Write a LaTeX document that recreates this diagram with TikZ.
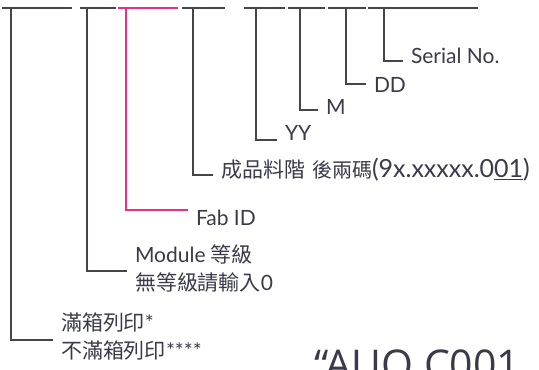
\documentclass[tikz,border=0pt]{standalone}
\usepackage{fontspec}
\setmainfont{Lato}
\newfontfamily\cjk{Noto Sans CJK TC}
\newfontfamily\logofont{Open Sans}
\usetikzlibrary{positioning}
\definecolor{linegray}{HTML}{4A4545}
\definecolor{textgray}{HTML}{3A3A4A}
\definecolor{fabpink}{HTML}{E8308A}

\begin{document}
\begin{tikzpicture}[x=1pt, y=-1pt,
        bar/.style={draw=linegray, line width=1.4pt},
        fab bar/.style={draw=fabpink, line width=1.4pt},
        label node/.style={anchor=west, inner xsep=8pt, inner ysep=0pt, outer sep=0pt,
            text=textgray, font=\fontsize{21}{28}\selectfont, align=left}]
    \useasboundingbox (0,0) rectangle (539,370);

    % Kreski u gory
    \coordinate (a1) at (2,8);   \coordinate (b1) at (72,8);  \coordinate (t1) at (11,8);
    \coordinate (a2) at (80,8);  \coordinate (b2) at (116,8); \coordinate (t2) at (87,8);
    \coordinate (a3) at (118,8); \coordinate (b3) at (178,8); \coordinate (t3) at (126,8);
    \coordinate (a4) at (182,8); \coordinate (b4) at (225,8); \coordinate (t4) at (193,8);
    \coordinate (a5) at (244,8); \coordinate (b5) at (285,8); \coordinate (t5) at (256,8);
    \coordinate (a6) at (288,8); \coordinate (b6) at (325,8); \coordinate (t6) at (300,8);
    \coordinate (a7) at (328,8); \coordinate (b7) at (366,8); \coordinate (t7) at (346,8);
    \coordinate (a8) at (368,8); \coordinate (b8) at (478,8); \coordinate (t8) at (384,8);

    % Opisy
    \node[label node] (box) at (53,337) {{\cjk 滿箱列印}*\\{\cjk 不滿箱列印}****};
    \node[label node] (grade) at (127,269) {Module {\cjk 等級}\\{\cjk 無等級請輸入}0};
    \node[label node] (fab) at (188,218) {Fab ID};
    \node[label node] (part) at (213,170) {{\cjk 成品料階\hspace{7pt}\fontsize{20}{20}\selectfont 後兩碼}%
        {\fontsize{25}{25}\selectfont (9x.xxxxx.0\underline{01})}};
    \node[label node] (yy) at (277,133) {YY};
    \node[label node] (mm) at (318,107) {M};
    \node[label node] (dd) at (366,85) {DD};
    \node[label node] (serial) at (403,56) {Serial No.};
    \node[anchor=base west, inner sep=0pt, text=textgray,
        font=\logofont\fontsize{41}{41}\selectfont] (logo) at (314,379) {\textquotedblleft AUO C001};

    % Kreski
    \draw[bar] (a1) -- (b1);
    \draw[bar] (a2) -- (b2);
    \draw[fab bar] (a3) -- (b3);
    \draw[bar] (a4) -- (b4);
    \draw[bar] (a5) -- (b5);
    \draw[bar] (a6) -- (b6);
    \draw[bar] (a7) -- (b7);
    \draw[bar] (a8) -- (b8);

    \draw[bar] (t1) |- ([yshift=-3pt]box.west);
    \draw[bar] (t2) |- ([yshift=-2pt]grade.west);
    \draw[fab bar] (t3) |- ([yshift=8pt]fab.west);
    \draw[bar] (t4) |- ([yshift=-5pt]part.west);
    \draw[bar] (t5) |- ([yshift=-7pt]yy.west);
    \draw[bar] (t6) |- ([yshift=-3pt]mm.west);
    \draw[bar] (t7) |- ([yshift=1pt]dd.west);
    \draw[bar] (t8) |- ([yshift=-5pt]serial.west);
\end{tikzpicture}
\end{document}
